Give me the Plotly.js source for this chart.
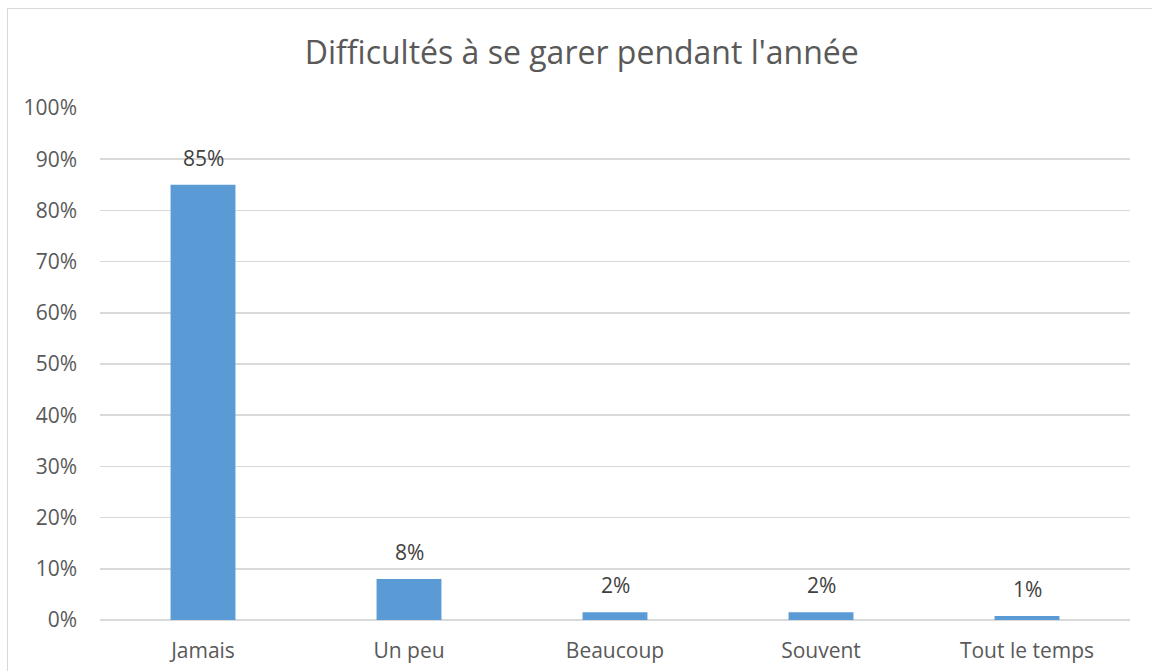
<!DOCTYPE html>
<html>
<head>
<meta charset="utf-8">
<script src="https://cdn.plot.ly/plotly-3.0.1.min.js"></script>
<style>
  html, body { margin: 0; padding: 0; background: #fff; }
  #wrap { position: relative; width: 1152px; height: 671px; overflow: hidden; }
  #chart { width: 1152px; height: 671px; }
  #frame { position: absolute; left: 7px; top: 8px; width: 1200px; height: 700px;
           border: 1px solid #d9d9d9; pointer-events: none; }
</style>
</head>
<body>
<div id="wrap">
  <div id="chart"></div>
  <div id="frame"></div>
</div>
<script>
// Données (en %)
const categories = ['Jamais', 'Un peu', 'Beaucoup', 'Souvent', 'Tout le temps'];
const values = [85, 8, 1.5, 1.5, 0.8];
const labels = ['85%', '8%', '2%', '2%', '1%'];
const yTicks = [0, 10, 20, 30, 40, 50, 60, 70, 80, 90, 100];

const FONT = '"Open Sans", "Liberation Sans", sans-serif';

const trace = {
    type: 'bar',
    x: categories,
    y: values,
    marker: { color: '#5b9bd5' },
    hoverinfo: 'skip'
};

const annotations = categories.map((c, i) => ({
    x: c,
    y: values[i],
    xref: 'x',
    yref: 'y',
    text: labels[i],
    showarrow: false,
    yanchor: 'middle',
    yshift: 27,
    font: { family: FONT, size: 21, color: '#404040' }
}));

const layout = {
    width: 1152,
    height: 671,
    paper_bgcolor: '#fff',
    plot_bgcolor: '#fff',
    margin: { l: 100, r: 22, t: 108, b: 51 },
    bargap: 0.685,
    showlegend: false,
    title: {
        text: "Difficultés à se garer pendant l'année",
        font: { family: FONT, size: 32, color: '#595959' },
        x: 0.505,
        xref: 'container',
        y: 0.922,
        yref: 'container',
        yanchor: 'middle'
    },
    xaxis: {
        type: 'category',
        showgrid: false,
        showline: false,
        ticks: '',
        ticklabelstandoff: 16,
        tickfont: { family: FONT, size: 21, color: '#595959' },
        fixedrange: true
    },
    yaxis: {
        range: [0, 100],
        tickvals: yTicks,
        ticktext: yTicks.map(v => v + '%'),
        showgrid: true,
        gridcolor: '#d9d9d9',
        gridwidth: 1.5,
        zeroline: true,
        zerolinecolor: '#d9d9d9',
        zerolinewidth: 1.5,
        showline: false,
        ticks: '',
        ticklabelstandoff: 22,
        tickfont: { family: FONT, size: 21, color: '#595959' },
        fixedrange: true
    },
    annotations
};

Plotly.newPlot('chart', [trace], layout, { displayModeBar: false, staticPlot: true });
</script>
</body>
</html>
